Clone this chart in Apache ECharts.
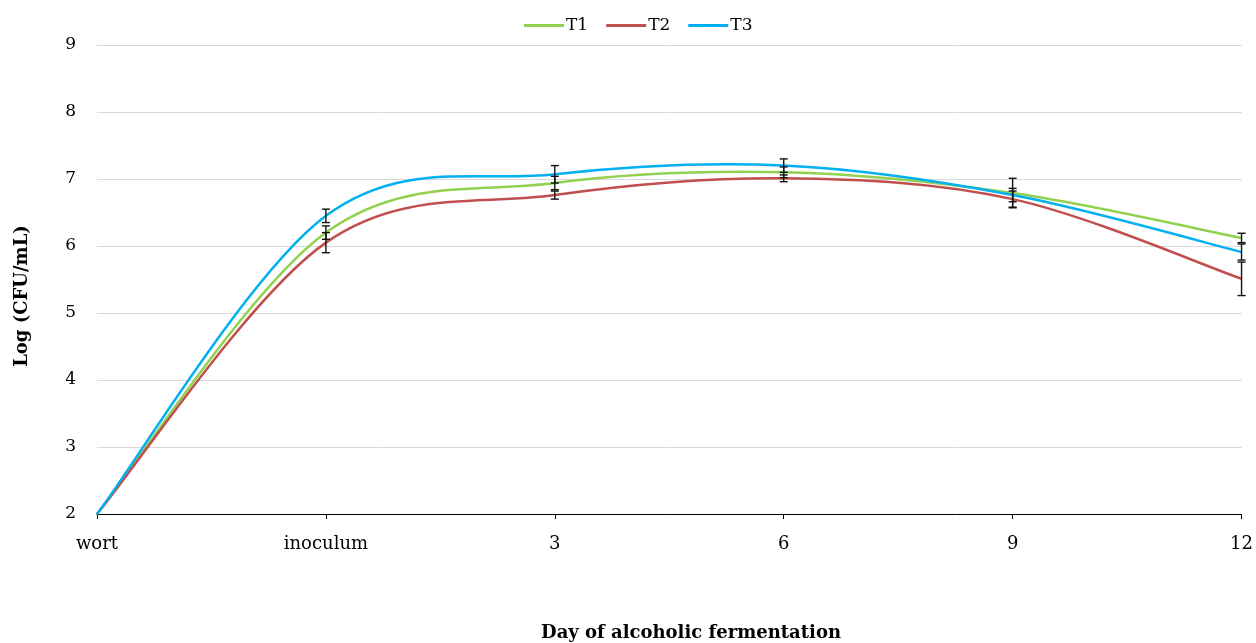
<!DOCTYPE html>
<html><head><meta charset="utf-8">
<script src="https://cdn.jsdelivr.net/npm/echarts@6/dist/echarts.min.js"></script>
<style>html,body{margin:0;padding:0;background:#fff}#c{width:1256px;height:643px}</style>
</head><body><div id="c"></div>
<script>
const categories = ['wort','inoculum','3','6','9','12'];
const t1 = [2.0, 6.20, 6.94, 7.10, 6.79, 6.12];
const t2 = [2.0, 6.05, 6.76, 7.01, 6.70, 5.51];
const t3 = [2.0, 6.45, 7.07, 7.20, 6.76, 5.91];
const t1Err = [0, 0.10, 0.10, 0.08, 0.22, 0.07];
const t2Err = [0, 0.15, 0.06, 0.05, 0.12, 0.25];
const t3Err = [0, 0.10, 0.13, 0.10, 0.10, 0.12];
const yTicks = [2,3,4,5,6,7,8,9];

const font = '"DejaVu Serif","Liberation Serif",serif';
const chart = echarts.init(document.getElementById('c'));

function errSeries(name, vals, errs) {
  const data = [];
  vals.forEach((v, i) => { if (errs[i] > 0) data.push([i, v - errs[i], v + errs[i]]); });
  return {
    type: 'custom', name: name + ' err', z: 5, silent: true,
    data: data, encode: {x: 0, y: [1, 2]},
    renderItem: function (params, api) {
      const x = api.value(0);
      const lo = api.coord([x, api.value(1)]);
      const hi = api.coord([x, api.value(2)]);
      const w = 4;
      const st = {stroke: '#111', lineWidth: 1.4};
      return {type: 'group', children: [
        {type: 'line', shape: {x1: lo[0], y1: lo[1], x2: hi[0], y2: hi[1]}, style: st},
        {type: 'line', shape: {x1: lo[0]-w, y1: lo[1], x2: lo[0]+w, y2: lo[1]}, style: st},
        {type: 'line', shape: {x1: hi[0]-w, y1: hi[1], x2: hi[0]+w, y2: hi[1]}, style: st}
      ]};
    }
  };
}

// smooth line (Catmull-Rom style bezier segments, like spreadsheet smoothed lines)
function lineSeries(name, vals, color) {
  return {
    type: 'custom', name: name, z: 3,
    data: vals.map((v, i) => [i, v]), encode: {x: 0, y: 1},
    itemStyle: {color: color},
    renderItem: function (params, api) {
      const i = params.dataIndex;
      const n = vals.length;
      if (i >= n - 1) return null;
      const P = j => api.coord([Math.max(0, Math.min(n - 1, j)), vals[Math.max(0, Math.min(n - 1, j))]]);
      const p0 = P(i - 1), p1 = P(i), p2 = P(i + 1), p3 = P(i + 2);
      const k = 1 / 6;
      return {
        type: 'bezierCurve',
        shape: {
          x1: p1[0], y1: p1[1], x2: p2[0], y2: p2[1],
          cpx1: p1[0] + (p2[0] - p0[0]) * k, cpy1: p1[1] + (p2[1] - p0[1]) * k,
          cpx2: p2[0] - (p3[0] - p1[0]) * k, cpy2: p2[1] - (p3[1] - p1[1]) * k
        },
        style: {stroke: color, lineWidth: 2.5, fill: null}
      };
    }
  };
}

chart.setOption({
  animation: false,
  textStyle: {fontFamily: font},
  legend: {
    top: 12, left: 519, itemWidth: 40, itemHeight: 3, itemGap: 18,
    icon: 'rect',
    data: ['T1','T2','T3'],
    textStyle: {fontFamily: font, fontSize: 17, color: '#000', padding: [0,0,0,-3]}
  },
  grid: {left: 97, right: 13, top: 45, bottom: 129, containLabel: false},
  xAxis: {
    type: 'category', data: categories, boundaryGap: false,
    axisLine: {lineStyle: {color: '#000', width: 1}},
    axisTick: {show: true, alignWithLabel: true, length: 5, lineStyle: {color: '#000'}},
    axisLabel: {fontFamily: font, fontSize: 18, color: '#000', margin: 21}
  },
  yAxis: {
    type: 'value', min: 2, max: 9, interval: 1,
    axisLine: {show: false}, axisTick: {show: false},
    axisLabel: {fontFamily: font, fontSize: 17, color: '#000', margin: 21,
      formatter: v => yTicks.includes(v) ? String(v) : ''},
    splitLine: {lineStyle: {color: '#d9d9d9', width: 1}}
  },
  graphic: [{
    type: 'text', x: 691, y: 633,
    style: {text: 'Day of alcoholic fermentation', font: 'bold 18px ' + font, fill: '#000',
      align: 'center', verticalAlign: 'middle'}
  }, {
    type: 'text', x: 22, y: 296, rotation: Math.PI / 2,
    style: {text: 'Log (CFU/mL)', font: 'bold 18px ' + font, fill: '#000',
      align: 'center', verticalAlign: 'middle'}
  }],
  series: [
    lineSeries('T1', t1, '#92D050'),
    lineSeries('T2', t2, '#C0504D'),
    lineSeries('T3', t3, '#00B0F0'),
    errSeries('T1', t1, t1Err),
    errSeries('T2', t2, t2Err),
    errSeries('T3', t3, t3Err)
  ]
});
</script></body></html>
